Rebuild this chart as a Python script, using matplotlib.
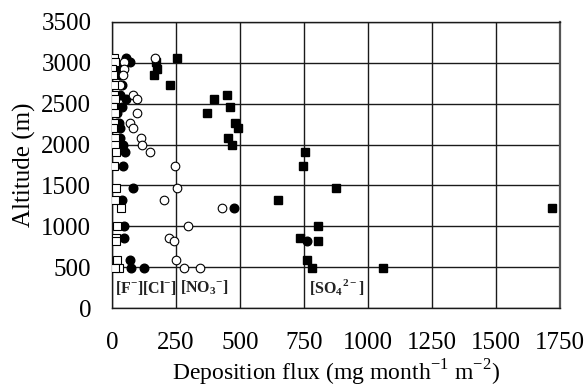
import matplotlib.pyplot as plt
import numpy as np

plt.rcParams['font.family'] = ['Liberation Serif', 'DejaVu Serif']

# altitudes of the sampling sites (m)
altitude = [3060, 3010, 2920, 2855, 2730, 2600, 2555, 2455, 2385, 2260, 2200, 2075,
            2000, 1905, 1735, 1465, 1325, 1230, 1005, 860, 815, 590, 495, 485]

# deposition flux (mg month-1 m-2)
flux_F = [8, 12, 1, 3, 8, 8, 10, 5, 10, 8, 5, 10,
          12, 14, 8, 14, 12, 34, 18, 14, 14, 18, 25, 12]
flux_Cl = [55, 68, 34, 30, 40, 31, 55, 38, 21, 25, 31, 31,
           42, 51, 42, 83, 38, 476, 47, 47, 760, 70, 126, 73]
flux_NO3 = [167, 48, 47, 42, 31, 83, 96, 5, 96, 70, 83, 112,
            118, 148, 247, 255, 204, 431, 298, 223, 243, 250, 279, 345]
flux_SO4 = [255, 171, 175, 165, 228, 450, 400, 462, 372, 482, 493, 453,
            470, 754, 747, 874, 647, 1717, 806, 734, 806, 763, 780, 1060]

xticks = [0, 250, 500, 750, 1000, 1250, 1500, 1750]
yticks = [0, 500, 1000, 1500, 2000, 2500, 3000, 3500]

fig = plt.figure(figsize=(5.87, 3.90), dpi=100)
ax = fig.add_axes([0.191, 0.210, 0.763, 0.734])

ms = 6.2
ax.plot(flux_SO4, altitude, 's', color='black', ms=ms, zorder=3)
ax.plot(flux_Cl, altitude, 'o', color='black', ms=ms, zorder=3)
ax.plot(flux_NO3, altitude, 'o', mfc='white', mec='black', mew=0.8, ms=ms, zorder=4)
ax.plot(flux_F, altitude, 's', mfc='white', mec='black', mew=0.8, ms=ms, zorder=4)

ax.set_xlim(0, 1750)
ax.set_ylim(0, 3500)
ax.set_xticks(xticks)
ax.set_yticks(yticks)
ax.tick_params(length=0, labelsize=18)
ax.tick_params(axis='x', pad=17)
ax.tick_params(axis='y', pad=15)
ax.grid(True, color='#1a1a1a', linewidth=1.0)
ax.set_axisbelow(True)
for s in ax.spines.values():
    s.set_color('#1a1a1a')
    s.set_linewidth(1.0)
ax.spines['right'].set_color('#555555')
ax.spines['right'].set_linewidth(1.6)

ax.set_xlabel(r'Deposition flux (mg month$^{\mathregular{-1}}$ m$^{\mathregular{-2}}$)', fontsize=17, labelpad=3)
ax.set_ylabel('Altitude (m)', fontsize=18, labelpad=4)

# species labels inside the plot
lab = dict(fontsize=11.5, fontweight='bold', va='center', color='#222222')
ax.text(10, 250, r'[F$^{\mathregular{-}}$][Cl$^{\mathregular{-}}$]', **lab)
ax.text(265, 250, r'[NO$_{\mathregular{3}}$$^{\mathregular{-}}$]', **lab)
ax.text(770, 250, r'[SO$_{\mathregular{4}}$$^{\mathregular{2-}}$]', **lab)

fig.savefig('out.png', dpi=100)
